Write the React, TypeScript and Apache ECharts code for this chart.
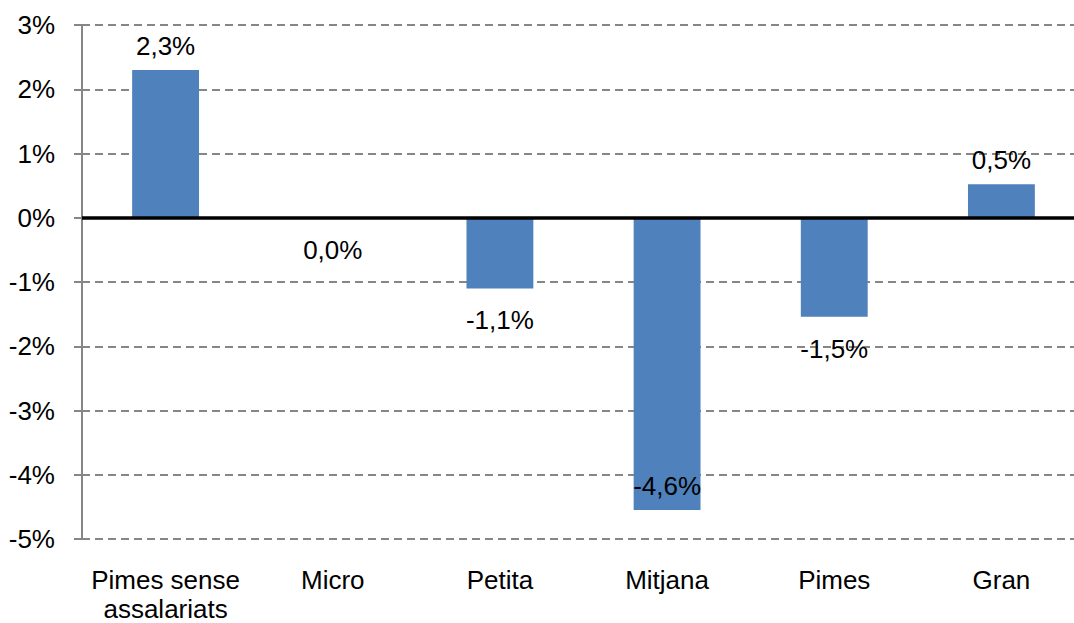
import React, { useEffect, useRef } from "react";
import * as echarts from "echarts";

const categories = ["Pimes sense\nassalariats", "Micro", "Petita", "Mitjana", "Pimes", "Gran"];
const values = [2.3, 0.0, -1.1, -4.55, -1.54, 0.52];
const labels = ["2,3%", "0,0%", "-1,1%", "-4,6%", "-1,5%", "0,5%"];
const yTicks = [-5, -4, -3, -2, -1, 0, 1, 2, 3];

const FONT = "'Liberation Sans', Arial, sans-serif";

export default function App() {
  const ref = useRef<HTMLDivElement>(null);
  useEffect(() => {
    if (!ref.current) return;
    const chart = echarts.init(ref.current, null, { renderer: "svg" });
    const data = values.map((v, i) => {
      let label: any;
      if (i === 3) {
        label = { position: "insideBottom", distance: 11 };
      } else if (v > 0) {
        label = { position: "top", distance: 11 };
      } else {
        label = { position: "bottom", distance: 19 };
      }
      return { value: v, label: { ...label, formatter: labels[i] } };
    });
    chart.setOption({
      animation: false,
      backgroundColor: "#ffffff",
      grid: { left: 82, top: 25, width: 1003, height: 518, containLabel: false },
      xAxis: {
        type: "category",
        data: categories,
        axisLine: { show: false },
        axisTick: { show: false },
        axisLabel: {
          color: "#000",
          fontSize: 26,
          fontFamily: FONT,
          margin: 26,
          lineHeight: 29,
          interval: 0,
        },
      },
      yAxis: {
        type: "value",
        min: yTicks[0],
        max: yTicks[yTicks.length - 1],
        interval: 1,
        axisLine: { show: true, lineStyle: { color: "#868686", width: 2 } },
        axisTick: { show: true, length: 8, lineStyle: { color: "#868686", width: 2 } },
        axisLabel: {
          color: "#000",
          fontSize: 26,
          fontFamily: FONT,
          margin: 27,
          formatter: (v: number) => `${v}%`,
        },
        splitLine: {
          show: true,
          lineStyle: { color: "#868686", width: 2, type: [8, 5] },
        },
      },
      series: [
        {
          type: "bar",
          data,
          barCategoryGap: "60%",
          itemStyle: { color: "#4F81BD" },
          label: {
            show: true,
            color: "#000",
            fontSize: 26,
            fontFamily: FONT,
          },
          markLine: {
            silent: true,
            symbol: "none",
            label: { show: false },
            lineStyle: { color: "#000", width: 3.5, type: "solid" },
            data: [{ yAxis: 0 }],
          },
        },
      ],
    });
    return () => chart.dispose();
  }, []);
  return <div ref={ref} style={{ width: 1100, height: 623, position: "fixed", left: 0, top: 0 }} />;
}
